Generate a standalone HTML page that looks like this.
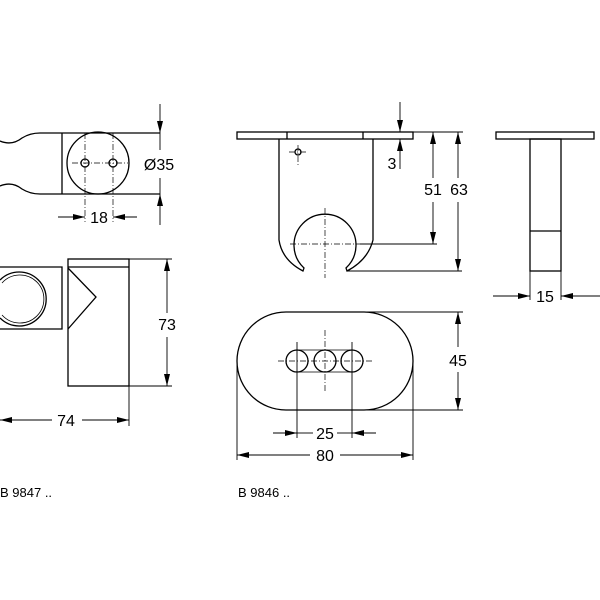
<!DOCTYPE html>
<html><head><style>html,body{margin:0;padding:0;background:#fff}svg{display:block}</style></head><body>
<svg width="600" height="600" viewBox="0 0 600 600" xmlns="http://www.w3.org/2000/svg" font-family="Liberation Sans, sans-serif">
<defs>
<marker id="a" viewBox="0 0 12 6" refX="12" refY="3" markerWidth="12" markerHeight="6" markerUnits="userSpaceOnUse" orient="auto"><path d="M0,0L12,3L0,6z" fill="#000"/></marker>
</defs>
<rect width="600" height="600" fill="#fff"/>
<g stroke="#000" stroke-width="1.3" fill="none">
<!-- top-left view -->
<path d="M0,141 Q12,146 22,138 Q30,133 40,133 L160,133 M0,186 Q12,181 22,189 Q30,194 40,194 L160,194"/>
<line x1="62" y1="133" x2="62" y2="194"/>
<circle cx="98" cy="163" r="31"/>
<circle cx="85" cy="163" r="4"/><circle cx="113" cy="163" r="4"/>
<g stroke-width="0.7" stroke-dasharray="6,2,1,2"><line x1="72" y1="163" x2="128" y2="163"/><line x1="85" y1="133" x2="85" y2="222"/><line x1="113" y1="133" x2="113" y2="222"/></g>
<g stroke-width="0.9">
<line x1="160" y1="104" x2="160" y2="133" marker-end="url(#a)"/><line x1="160" y1="225" x2="160" y2="194" marker-end="url(#a)"/>
<line x1="160" y1="133" x2="160" y2="150"/><line x1="160" y1="178" x2="160" y2="194"/>
<line x1="58" y1="217" x2="85" y2="217" marker-end="url(#a)"/><line x1="137" y1="217" x2="113" y2="217" marker-end="url(#a)"/>
</g>
<!-- bottom-left view -->
<rect x="68" y="259" width="61" height="127"/>
<line x1="68" y1="267" x2="129" y2="267"/>
<path d="M0,267 L62,267 L62,329 L0,329"/>
<path d="M68,268 L96,297 L68,329"/>
<path d="M0,280 A27,27 0 1 1 0,318"/>
<path d="M2,283 A24,24 0 1 1 2,315" stroke-width="0.8"/>
<g stroke-width="0.9">
<line x1="129" y1="259" x2="172" y2="259"/><line x1="129" y1="386" x2="172" y2="386"/>
<line x1="167" y1="313" x2="167" y2="259" marker-end="url(#a)"/><line x1="167" y1="337" x2="167" y2="386" marker-end="url(#a)"/>
<line x1="129" y1="386" x2="129" y2="426"/>
<line x1="52" y1="420" x2="0" y2="420" marker-end="url(#a)"/><line x1="82" y1="420" x2="129" y2="420" marker-end="url(#a)"/>
</g>
<!-- top-middle view -->
<rect x="237" y="132" width="176" height="7"/>
<line x1="287" y1="132" x2="287" y2="139"/><line x1="363" y1="132" x2="363" y2="139"/>
<path d="M279,139 L279,240 Q282,260 303,271 L304,268 A31,31 0 1 1 346,268 L347,271 Q368,260 373,240 L373,139"/>
<circle cx="298" cy="152" r="3"/>
<g stroke-width="0.7" stroke-dasharray="6,2,1,2"><line x1="289" y1="152" x2="308" y2="152"/><line x1="298" y1="145" x2="298" y2="165"/>
<line x1="290" y1="244" x2="360" y2="244"/><line x1="325" y1="208" x2="325" y2="278"/></g>
<g stroke-width="0.9">
<line x1="413" y1="132" x2="463" y2="132"/><line x1="360" y1="244" x2="437" y2="244"/><line x1="347" y1="271" x2="462" y2="271"/>
<line x1="400" y1="102" x2="400" y2="132" marker-end="url(#a)"/><line x1="400" y1="169" x2="400" y2="139" marker-end="url(#a)"/>
<line x1="433" y1="178" x2="433" y2="132" marker-end="url(#a)"/><line x1="433" y1="202" x2="433" y2="244" marker-end="url(#a)"/>
<line x1="458" y1="178" x2="458" y2="132" marker-end="url(#a)"/><line x1="458" y1="202" x2="458" y2="271" marker-end="url(#a)"/>
</g>
<!-- side view -->
<rect x="496" y="132" width="98" height="7"/>
<rect x="530" y="139" width="31" height="132"/>
<line x1="530" y1="231" x2="561" y2="231"/>
<g stroke-width="0.9">
<line x1="530" y1="271" x2="530" y2="300"/><line x1="561" y1="271" x2="561" y2="300"/>
<line x1="493" y1="296" x2="530" y2="296" marker-end="url(#a)"/><line x1="600" y1="296" x2="561" y2="296" marker-end="url(#a)"/>
</g>
<!-- bottom-middle view -->
<path d="M286,312 L364,312 A49,49 0 0 1 364,410 L286,410 A49,49 0 0 1 286,312 Z"/>
<circle cx="297" cy="361" r="11"/><circle cx="325" cy="361" r="11"/><circle cx="352" cy="361" r="11"/>
<path d="M297,350 L352,350 M297,372 L352,372" stroke-width="0.8"/>
<g stroke-width="0.7" stroke-dasharray="6,2,1,2"><line x1="278" y1="361" x2="372" y2="361"/><line x1="325" y1="330" x2="325" y2="392"/></g>
<g stroke-width="0.9">
<line x1="297" y1="342" x2="297" y2="438"/><line x1="352" y1="342" x2="352" y2="438"/>
<line x1="237" y1="361" x2="237" y2="460"/><line x1="413" y1="361" x2="413" y2="460"/>
<line x1="364" y1="312" x2="463" y2="312"/><line x1="364" y1="410" x2="463" y2="410"/>
<line x1="458" y1="347" x2="458" y2="312" marker-end="url(#a)"/><line x1="458" y1="372" x2="458" y2="410" marker-end="url(#a)"/>
<line x1="273" y1="433" x2="297" y2="433" marker-end="url(#a)"/><line x1="376" y1="433" x2="352" y2="433" marker-end="url(#a)"/>
<line x1="297" y1="433" x2="313" y2="433"/><line x1="337" y1="433" x2="352" y2="433"/>
<line x1="310" y1="455" x2="237" y2="455" marker-end="url(#a)"/><line x1="340" y1="455" x2="413" y2="455" marker-end="url(#a)"/>
</g>
</g>
<g font-size="16" fill="#000" text-anchor="middle">
<text x="159" y="170">Ø35</text>
<text x="99" y="223">18</text>
<text x="167" y="330">73</text>
<text x="66" y="426">74</text>
<text x="392" y="169">3</text>
<text x="433" y="195">51</text>
<text x="459" y="195">63</text>
<text x="545" y="302">15</text>
<text x="458" y="366">45</text>
<text x="325" y="439">25</text>
<text x="325" y="461">80</text>
</g>
<g font-size="13" fill="#000">
<text x="0" y="497">B 9847 ..</text>
<text x="238" y="497">B 9846 ..</text>
</g>
</svg>
</body></html>
